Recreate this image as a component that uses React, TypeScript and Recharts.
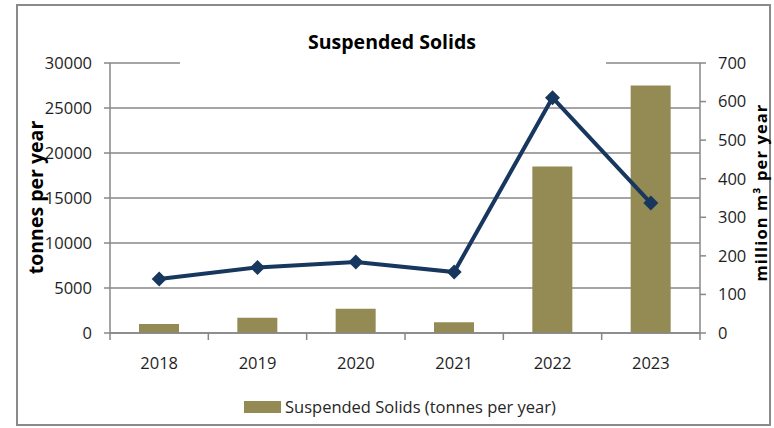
import React from 'react';
import { ComposedChart, Bar, Line, XAxis, YAxis, CartesianGrid } from 'recharts';

// ---- data ----
const years = ['2018', '2019', '2020', '2021', '2022', '2023'];
const solidsTonnes = [1000, 1700, 2700, 1200, 18500, 27500];
const flowMillionM3 = [140, 170, 184, 158, 610, 337];
const leftTicks = [0, 5000, 10000, 15000, 20000, 25000, 30000];
const rightTicks = [0, 100, 200, 300, 400, 500, 600, 700];
const titleText = 'Suspended Solids';
const leftLabel = 'tonnes per year';
const rightLabel = 'million m\u00B3 per year';
const legendLabel = 'Suspended Solids (tonnes per year)';

const data = years.map((year, i) => ({ year, solids: solidsTonnes[i], flow: flowMillionM3[i] }));

// ---- layout / style ----
const W = 774;
const H = 428;
const MARGIN = { top: 63, right: 14, bottom: 65, left: 50 };
const Y_AXIS_W = 60;
const X_AXIS_H = 30;
const PLOT_LEFT = MARGIN.left + Y_AXIS_W;
const PLOT_RIGHT = W - MARGIN.right - Y_AXIS_W;
const PLOT_TOP = MARGIN.top;
const PLOT_BOTTOM = H - MARGIN.bottom - X_AXIS_H;
const BAND = (PLOT_RIGHT - PLOT_LEFT) / years.length;

const BAR_COLOR = '#948A54';
const LINE_COLOR = '#17375E';
const GRID_COLOR = '#878787';
const TEXT_COLOR = '#1e1e1e';
const FONT = "'Open Sans', sans-serif";
const TICK_SIZE = 16.5;

const gridLine = (props: any) => {
  const { x1, x2, y1, y2, key, index } = props;
  const common = { stroke: GRID_COLOR, strokeWidth: 1.5 };
  if (Math.abs(y1 - PLOT_TOP) < 1) {
    return (
      <g key={key ?? `g-${index}`}>
        <line x1={x1} x2={180} y1={y1} y2={y2} {...common} />
        <line x1={606} x2={x2} y1={y1} y2={y2} {...common} />
      </g>
    );
  }
  return <line key={key ?? `g-${index}`} x1={x1} x2={x2} y1={y1} y2={y2} {...common} />;
};

const XTick = (props: any) => {
  const { x, payload, index } = props;
  const left = x - BAND / 2;
  const right = x + BAND / 2;
  return (
    <g>
      <line x1={left} x2={left} y1={PLOT_BOTTOM} y2={PLOT_BOTTOM + 7} stroke={GRID_COLOR} strokeWidth={1.5} />
      {index === years.length - 1 && (
        <line x1={right} x2={right} y1={PLOT_BOTTOM} y2={PLOT_BOTTOM + 7} stroke={GRID_COLOR} strokeWidth={1.5} />
      )}
      <text x={x} y={PLOT_BOTTOM + 36} textAnchor="middle" fill={TEXT_COLOR} fontFamily={FONT} fontSize={TICK_SIZE}>
        {payload.value}
      </text>
    </g>
  );
};

const Diamond = (props: any) => {
  const { cx, cy, index } = props;
  if (cx == null || cy == null) return <g key={`d-${index}`} />;
  const r = 7.5;
  return (
    <path
      key={`d-${index}`}
      d={`M${cx},${cy - r}L${cx + r},${cy}L${cx},${cy + r}L${cx - r},${cy}Z`}
      fill={LINE_COLOR}
    />
  );
};

export default function App() {
  return (
    <div style={{ position: 'absolute', left: 0, top: 0, width: W, height: H, background: '#fff' }}>
      <ComposedChart width={W} height={H} data={data} margin={MARGIN}>
        <CartesianGrid yAxisId="left" vertical={false} horizontal={gridLine} stroke={GRID_COLOR} />
        <XAxis
          dataKey="year"
          height={X_AXIS_H}
          interval={0}
          tickLine={false}
          axisLine={{ stroke: GRID_COLOR, strokeWidth: 1.5 }}
          tick={(p: any) => <XTick {...p} />}
        />
        <YAxis
          yAxisId="left"
          orientation="left"
          width={Y_AXIS_W}
          domain={[0, 30000]}
          ticks={leftTicks}
          interval={0}
          tickSize={6}
          tickMargin={12}
          axisLine={{ stroke: GRID_COLOR, strokeWidth: 1.5 }}
          tickLine={{ stroke: GRID_COLOR, strokeWidth: 1.5 }}
          tick={{ fill: TEXT_COLOR, fontSize: TICK_SIZE, fontFamily: FONT }}
        />
        <YAxis
          yAxisId="right"
          orientation="right"
          width={Y_AXIS_W}
          domain={[0, 700]}
          ticks={rightTicks}
          interval={0}
          tickSize={6}
          tickMargin={12}
          axisLine={{ stroke: GRID_COLOR, strokeWidth: 1.5 }}
          tickLine={{ stroke: GRID_COLOR, strokeWidth: 1.5 }}
          tick={{ fill: TEXT_COLOR, fontSize: TICK_SIZE, fontFamily: FONT }}
        />
        <Bar yAxisId="left" dataKey="solids" fill={BAR_COLOR} barSize={40} isAnimationActive={false} />
        <Line
          yAxisId="right"
          type="linear"
          dataKey="flow"
          stroke={LINE_COLOR}
          strokeWidth={4}
          dot={Diamond}
          activeDot={false}
          isAnimationActive={false}
        />
      </ComposedChart>
      <svg
        width={W}
        height={H}
        style={{ position: 'absolute', left: 0, top: 0, pointerEvents: 'none' }}
      >
        <rect x={17} y={5} width={753} height={420} fill="none" stroke="#8a8a8a" strokeWidth={2} />
        <text x={392} y={49} textAnchor="middle" fontFamily={FONT} fontWeight={700} fontSize={19.5} fill="#000">
          {titleText}
        </text>
        <text
          transform={`translate(43, 197.5) rotate(-90)`}
          textAnchor="middle"
          fontFamily={FONT}
          fontWeight={700}
          fontSize={19.5}
          fill="#000"
        >
          {leftLabel}
        </text>
        <text
          transform={`translate(766.5, 192.5) rotate(-90)`}
          textAnchor="middle"
          fontFamily={FONT}
          fontWeight={700}
          fontSize={16.5}
          letterSpacing={1.1}
          fill="#000"
        >
          {rightLabel}
        </text>
        <rect x={244} y={401} width={37} height={12} fill={BAR_COLOR} />
        <text x={285} y={413} fontFamily={FONT} fontSize={16.5} fill="#262626">
          {legendLabel}
        </text>
      </svg>
    </div>
  );
}
